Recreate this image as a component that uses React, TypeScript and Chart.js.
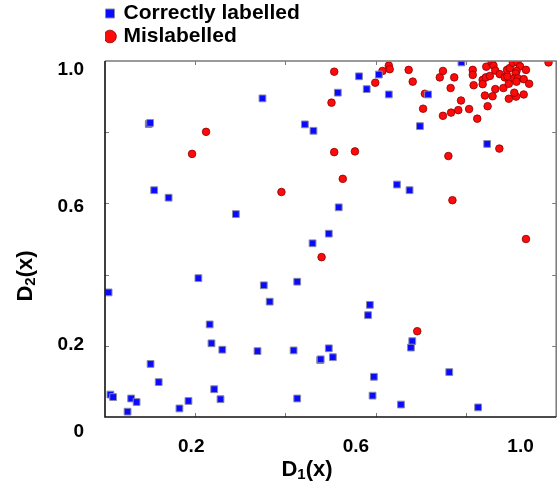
import React, { useEffect, useRef } from 'react';
import { Chart, registerables } from 'chart.js';

Chart.register(...registerables);

const FONT = "'Liberation Sans', Arial, Helvetica, sans-serif";

const seriesNames = ['Correctly labelled', 'Mislabelled'];

// [D1(x), D2(x)]
const correctPoints: [number, number][] = [
  [0.097, 0.823], [0.100, 0.826], [0.349, 0.895], [0.443, 0.822], [0.109, 0.637],
  [0.141, 0.616], [0.290, 0.570],
  [0.790, 0.996], [0.563, 0.957], [0.607, 0.962], [0.580, 0.921], [0.516, 0.911],
  [0.629, 0.906], [0.716, 0.906], [0.462, 0.804], [0.698, 0.817], [0.847, 0.767],
  [0.647, 0.653], [0.675, 0.637], [0.518, 0.589], [0.496, 0.515], [0.460, 0.488],
  [0.008, 0.350], [0.207, 0.390], [0.352, 0.370], [0.365, 0.324], [0.426, 0.380],
  [0.232, 0.260], [0.236, 0.207], [0.260, 0.189], [0.338, 0.185], [0.418, 0.187],
  [0.101, 0.149], [0.119, 0.098], [0.012, 0.063], [0.018, 0.056], [0.058, 0.052],
  [0.070, 0.042], [0.050, 0.015], [0.165, 0.024], [0.185, 0.045], [0.242, 0.078],
  [0.256, 0.050], [0.426, 0.052],
  [0.587, 0.315], [0.583, 0.286], [0.496, 0.193], [0.477, 0.160], [0.478, 0.162],
  [0.505, 0.168], [0.681, 0.213], [0.678, 0.195], [0.596, 0.113], [0.593, 0.060],
  [0.656, 0.035], [0.763, 0.126], [0.827, 0.027],
];

const mislabelledPoints: [number, number][] = [
  [0.224, 0.801], [0.193, 0.739], [0.391, 0.632], [0.480, 0.449], [0.692, 0.241],
  [0.508, 0.970], [0.502, 0.883], [0.508, 0.744], [0.554, 0.746], [0.527, 0.669],
  [0.770, 0.609], [0.761, 0.733], [0.874, 0.754], [0.933, 0.500], [0.599, 0.939],
  [0.615, 0.972], [0.629, 0.987], [0.631, 0.977], [0.673, 0.975], [0.682, 0.942],
  [0.709, 0.908], [0.705, 0.866], [0.742, 0.954], [0.749, 0.972], [0.774, 0.954],
  [0.766, 0.924], [0.749, 0.846], [0.767, 0.855], [0.783, 0.862], [0.789, 0.889],
  [0.807, 0.865], [0.825, 0.838], [0.815, 0.975], [0.815, 0.961], [0.817, 0.932],
  [0.845, 0.984], [0.857, 0.996], [0.861, 0.987], [0.865, 0.973], [0.875, 0.963],
  [0.837, 0.947], [0.837, 0.935], [0.844, 0.954], [0.853, 0.958], [0.842, 0.903],
  [0.859, 0.901], [0.865, 0.921], [0.848, 0.873], [0.883, 0.924], [0.895, 0.894],
  [0.895, 0.936], [0.886, 0.954], [0.892, 0.957], [0.891, 0.975], [0.897, 0.980],
  [0.904, 0.995], [0.914, 0.996], [0.920, 0.985], [0.912, 0.972], [0.910, 0.965],
  [0.907, 0.951], [0.915, 0.951], [0.912, 0.942], [0.911, 0.900], [0.907, 0.911],
  [0.928, 0.949], [0.933, 0.975], [0.928, 0.906], [0.940, 0.936], [0.983, 0.996],
];

// minor tick marks (inside the frame)
const xTickMarks = [0.2, 0.4, 0.6, 0.8, 1.0];
const yTickMarks = [0.2, 0.4, 0.6, 0.8];

// printed tick labels and where they sit
const xTickLabels = ['0.2', '0.6', '1.0'];
const xTickLabelAt = [0.2, 0.6, 1.0];
const yTickLabels = ['0', '0.2', '0.6', '1.0'];
const yTickLabelAt = [-0.053, 0.2, 0.6, 1.0];

const xTitle = ['D', '1', '(x)'];
const yTitle = ['D', '2', '(x)'];

function drawSubTitle(ctx: CanvasRenderingContext2D, parts: string[], cx: number, baseline: number) {
  const big = `bold 22px ${FONT}`;
  const small = `bold 15px ${FONT}`;
  ctx.font = big;
  const w1 = ctx.measureText(parts[0]).width;
  const w3 = ctx.measureText(parts[2]).width;
  ctx.font = small;
  const w2 = ctx.measureText(parts[1]).width;
  let x = cx - (w1 + w2 + w3) / 2;
  ctx.textAlign = 'left';
  ctx.textBaseline = 'alphabetic';
  ctx.fillStyle = '#000';
  ctx.font = big;
  ctx.fillText(parts[0], x, baseline);
  x += w1;
  ctx.font = small;
  ctx.fillText(parts[1], x, baseline + 3);
  x += w2;
  ctx.font = big;
  ctx.fillText(parts[2], x, baseline);
}

const framePlugin = {
  id: 'frameAndTitles',
  afterDatasetsDraw(chart: any) {
    const { ctx, chartArea: a, scales } = chart;
    const xs = scales.x;
    const ys = scales.y;
    ctx.save();
    // inward tick marks
    ctx.strokeStyle = '#7a7a7a';
    ctx.lineWidth = 1;
    ctx.beginPath();
    for (const v of xTickMarks) {
      const p = Math.round(xs.getPixelForValue(v)) + 0.5;
      ctx.moveTo(p, a.bottom);
      ctx.lineTo(p, a.bottom - 4);
      ctx.moveTo(p, a.top);
      ctx.lineTo(p, a.top + 4);
    }
    for (const v of yTickMarks) {
      const p = Math.round(ys.getPixelForValue(v)) + 0.5;
      ctx.moveTo(a.left, p);
      ctx.lineTo(a.left + 4, p);
      ctx.moveTo(a.right, p);
      ctx.lineTo(a.right - 4, p);
    }
    ctx.stroke();
    // top / right frame
    ctx.strokeStyle = '#7a7a7a';
    ctx.lineWidth = 1.5;
    ctx.beginPath();
    ctx.moveTo(a.left, a.top);
    ctx.lineTo(a.right, a.top);
    ctx.lineTo(a.right, a.bottom);
    ctx.stroke();
    // left / bottom axes
    ctx.strokeStyle = '#111';
    ctx.lineWidth = 1.6;
    ctx.beginPath();
    ctx.moveTo(a.left, a.top);
    ctx.lineTo(a.left, a.bottom);
    ctx.lineTo(a.right, a.bottom);
    ctx.stroke();
    ctx.restore();
  },
  afterDraw(chart: any) {
    const { ctx, chartArea: a } = chart;
    ctx.save();
    drawSubTitle(ctx, xTitle, a.left + 202, a.bottom + 59);
    ctx.translate(a.left - 73, a.top + 215);
    ctx.rotate(-Math.PI / 2);
    drawSubTitle(ctx, yTitle, 0, 0);
    ctx.restore();
  },
};

export default function App() {
  const canvasRef = useRef<HTMLCanvasElement | null>(null);

  useEffect(() => {
    const canvas = canvasRef.current;
    if (!canvas) return;
    const chart = new Chart(canvas, {
      type: 'scatter',
      data: {
        datasets: [
          {
            label: seriesNames[0],
            data: correctPoints.map(([x, y]) => ({ x, y })),
            pointStyle: 'rect',
            pointRadius: 4.8,
            backgroundColor: '#0a0aff',
            borderColor: '#8a8aa6',
            borderWidth: 1,
          },
          {
            label: seriesNames[1],
            data: mislabelledPoints.map(([x, y]) => ({ x, y })),
            pointStyle: 'circle',
            pointRadius: 3.8,
            backgroundColor: '#ff0a0a',
            borderColor: '#8a0000',
            borderWidth: 0.8,
          },
        ],
      },
      options: {
        animation: false,
        responsive: false,
        events: [],
        layout: { padding: { top: 1, right: 2, left: 0, bottom: 0 } },
        plugins: {
          tooltip: { enabled: false },
          legend: {
            position: 'top',
            align: 'start',
            fullSize: false,
            labels: {
              usePointStyle: true,
              boxWidth: 6,
              boxHeight: 9,
              padding: 2,
              color: '#000',
              font: { family: FONT, size: 21, weight: 'bold' },
              generateLabels: (c: any) => {
                const items = (Chart as any).defaults.plugins.legend.labels.generateLabels(c);
                if (items[0]) items[0].text = items[0].text + '\u00A0'.repeat(45);
                return items;
              },
            },
          },
        },
        scales: {
          x: { type: 'linear', display: false, min: 0, max: 1 },
          y: { type: 'linear', display: false, min: 0, max: 1 },
          xt: {
            type: 'linear',
            axis: 'x',
            position: 'top',
            min: 0,
            max: 1,
            grid: { display: false },
            border: { display: false },
            ticks: { display: false },
            afterFit: (s: any) => { s.height = 4; },
          },
          xl: {
            type: 'linear',
            axis: 'x',
            position: 'bottom',
            min: -0.0096,
            max: 1.0867,
            grid: { display: false },
            border: { display: false },
            afterBuildTicks: (s: any) => { s.ticks = xTickLabelAt.map((value) => ({ value })); },
            ticks: {
              autoSkip: false,
              maxRotation: 0,
              padding: 10,
              color: '#000',
              font: { family: FONT, size: 19, weight: 'bold' },
              callback: (_v: any, i: number) => xTickLabels[i],
            },
            afterFit: (s: any) => { s.height = 74; },
          },
          yl: {
            type: 'linear',
            axis: 'y',
            position: 'left',
            min: -0.0106,
            max: 1.025,
            grid: { display: false },
            border: { display: false },
            afterBuildTicks: (s: any) => { s.ticks = yTickLabelAt.map((value) => ({ value })); },
            ticks: {
              autoSkip: false,
              padding: 13,
              color: '#000',
              font: { family: FONT, size: 19, weight: 'bold' },
              callback: (_v: any, i: number) => yTickLabels[i],
            },
            afterFit: (s: any) => { s.width = 105; },
          },
        },
      } as any,
      plugins: [framePlugin],
    });
    return () => chart.destroy();
  }, []);

  return (
    <div style={{ position: 'fixed', left: 0, top: 0, width: 559, height: 491, overflow: 'hidden', background: '#fff' }}>
      <canvas ref={canvasRef} width={562} height={491} style={{ display: 'block' }} />
    </div>
  );
}
